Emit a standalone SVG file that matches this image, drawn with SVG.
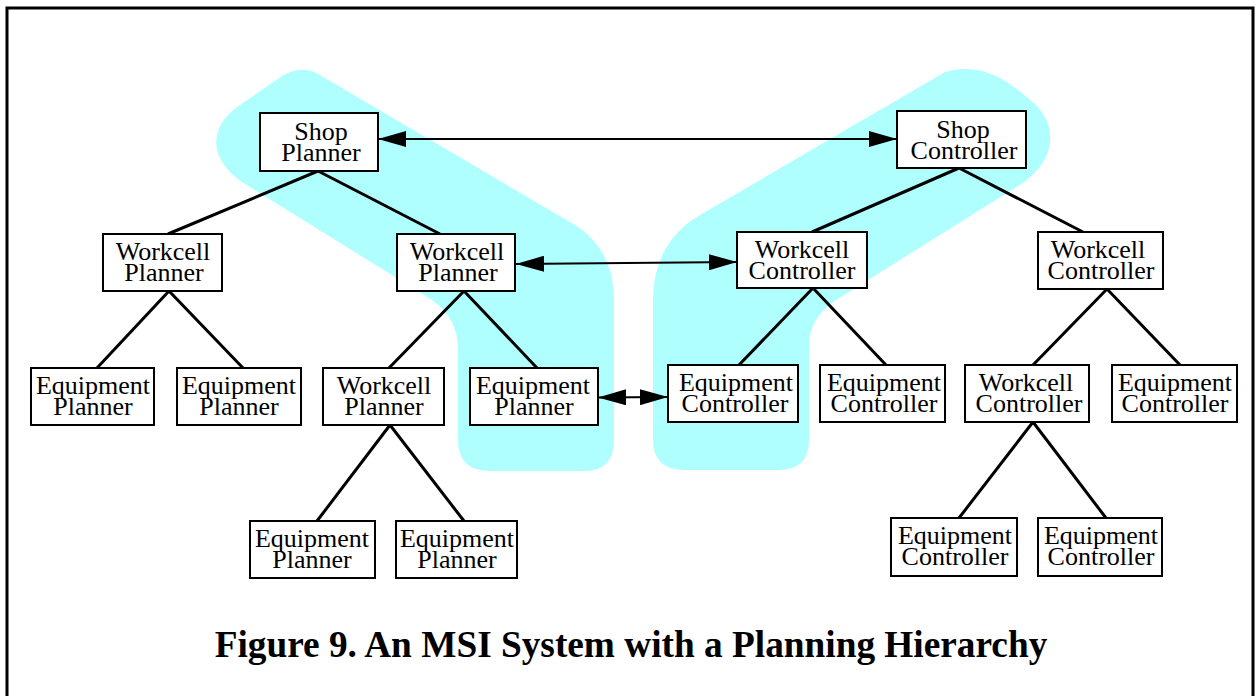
<svg xmlns="http://www.w3.org/2000/svg" width="1255" height="696" viewBox="0 0 1255 696">
  <style>
    .box { fill: #ffffff; stroke: #000000; stroke-width: 2; }
    .lbl { font-family: "Liberation Serif", "Times New Roman", serif; font-size: 26px; fill: #000000; text-anchor: middle; }
    .tree { stroke: #000000; stroke-width: 3; fill: none; }
    .link { stroke: #000000; stroke-width: 2; fill: none; marker-start: url(#head); marker-end: url(#head); }
    .zone { fill: #afffff; stroke: none; }
    .title { font-family: "Liberation Serif", "Times New Roman", serif; font-size: 37.3px; font-weight: bold; fill: #000000; }
  </style>
  <defs>
    <marker id="head" markerUnits="userSpaceOnUse" markerWidth="28" markerHeight="16" refX="28" refY="8" orient="auto-start-reverse">
      <path d="M0,0 L28,8 L0,16 Z" fill="#000000"/>
    </marker>
  </defs>

  <rect x="0" y="0" width="1255" height="696" fill="#ffffff"/>
  <!-- frame -->
  <rect x="7" y="8" width="1246" height="710" fill="none" stroke="#000000" stroke-width="3"/>

  <!-- highlighted planning / control chains -->
  <g id="zones">
    <path class="zone" d="M318,74 L575,225 Q614,250 614,300 L614,440 Q614,471 584,471 L490,471 Q458,471 458,440 L458,350 Q458,318 432,300 L242,182 C210,160 206,128 240,105 L282,76 C295,68 308,68 318,74 Z"/>
    <path class="zone" d="M945,72 L700,215 Q653,243 653,300 L653,440 Q653,470 685,470 L778,470 Q809,470 809,440 L809,345 Q809,318 836,300 L1018,186 C1055,163 1062,125 1030,100 C1005,78 980,62 945,72 Z"/>
  </g>

  <!-- connectors -->
  <g id="connectors">
    <path class="tree" d="M318,171 L168,234 M318,171 L440,234"/>
    <path class="tree" d="M169,291 L97,368 M169,291 L243,368"/>
    <path class="tree" d="M464,291 L389,368 M464,291 L537,368"/>
    <path class="tree" d="M390,425 L317,521 M390,425 L464,521"/>
    <path class="tree" d="M959,168 L812,232 M959,168 L1083,232"/>
    <path class="tree" d="M813,288 L739,365 M813,288 L886,365"/>
    <path class="tree" d="M1107,289 L1033,365 M1107,289 L1180,365"/>
    <path class="tree" d="M1033,422 L959,518 M1033,422 L1106,518"/>
    <line class="link" x1="378" y1="139" x2="897" y2="139"/>
    <line class="link" x1="516" y1="264" x2="737" y2="262"/>
    <line class="link" x1="598" y1="397.5" x2="668" y2="397"/>
  </g>

  <!-- planning hierarchy -->
  <g id="shop-planner">
    <rect class="box" x="260" y="113" width="118" height="58"/>
    <text class="lbl" y="140"><tspan x="321">Shop</tspan><tspan x="321" dy="21">Planner</tspan></text>
  </g>
  <g id="workcell-planner-1">
    <rect class="box" x="103" y="234" width="119" height="57"/>
    <text class="lbl" y="260"><tspan x="163">Workcell</tspan><tspan x="164" dy="21">Planner</tspan></text>
  </g>
  <g id="workcell-planner-2">
    <rect class="box" x="397" y="234" width="118" height="57"/>
    <text class="lbl" y="260"><tspan x="457">Workcell</tspan><tspan x="458" dy="21">Planner</tspan></text>
  </g>
  <g id="equipment-planner-1">
    <rect class="box" x="31" y="368" width="123" height="57"/>
    <text class="lbl" y="394"><tspan x="93">Equipment</tspan><tspan x="93" dy="21">Planner</tspan></text>
  </g>
  <g id="equipment-planner-2">
    <rect class="box" x="177" y="368" width="124" height="57"/>
    <text class="lbl" y="394"><tspan x="239">Equipment</tspan><tspan x="239" dy="21">Planner</tspan></text>
  </g>
  <g id="workcell-planner-3">
    <rect class="box" x="323" y="368" width="121" height="57"/>
    <text class="lbl" y="394"><tspan x="384">Workcell</tspan><tspan x="384" dy="21">Planner</tspan></text>
  </g>
  <g id="equipment-planner-3">
    <rect class="box" x="470" y="368" width="128" height="57"/>
    <text class="lbl" y="394"><tspan x="533">Equipment</tspan><tspan x="534" dy="21">Planner</tspan></text>
  </g>
  <g id="equipment-planner-4">
    <rect class="box" x="250" y="521" width="125" height="57"/>
    <text class="lbl" y="547"><tspan x="312">Equipment</tspan><tspan x="312" dy="21">Planner</tspan></text>
  </g>
  <g id="equipment-planner-5">
    <rect class="box" x="396" y="521" width="121" height="57"/>
    <text class="lbl" y="547"><tspan x="457">Equipment</tspan><tspan x="457" dy="21">Planner</tspan></text>
  </g>

  <!-- control hierarchy -->
  <g id="shop-controller">
    <rect class="box" x="897" y="111" width="129" height="57"/>
    <text class="lbl" y="138"><tspan x="963">Shop</tspan><tspan x="964" dy="21">Controller</tspan></text>
  </g>
  <g id="workcell-controller-1">
    <rect class="box" x="737" y="232" width="130" height="56"/>
    <text class="lbl" y="258"><tspan x="802">Workcell</tspan><tspan x="802" dy="21">Controller</tspan></text>
  </g>
  <g id="workcell-controller-2">
    <rect class="box" x="1038" y="232" width="125" height="57"/>
    <text class="lbl" y="258"><tspan x="1098">Workcell</tspan><tspan x="1101" dy="21">Controller</tspan></text>
  </g>
  <g id="equipment-controller-1">
    <rect class="box" x="668" y="365" width="130" height="57"/>
    <text class="lbl" y="391"><tspan x="736">Equipment</tspan><tspan x="735" dy="21">Controller</tspan></text>
  </g>
  <g id="equipment-controller-2">
    <rect class="box" x="820" y="365" width="125" height="57"/>
    <text class="lbl" y="391"><tspan x="884">Equipment</tspan><tspan x="884" dy="21">Controller</tspan></text>
  </g>
  <g id="workcell-controller-3">
    <rect class="box" x="965" y="365" width="124" height="57"/>
    <text class="lbl" y="391"><tspan x="1026">Workcell</tspan><tspan x="1029" dy="21">Controller</tspan></text>
  </g>
  <g id="equipment-controller-3">
    <rect class="box" x="1112" y="365" width="125" height="57"/>
    <text class="lbl" y="391"><tspan x="1175">Equipment</tspan><tspan x="1175" dy="21">Controller</tspan></text>
  </g>
  <g id="equipment-controller-4">
    <rect class="box" x="891" y="518" width="126" height="58"/>
    <text class="lbl" y="544"><tspan x="955">Equipment</tspan><tspan x="955" dy="21">Controller</tspan></text>
  </g>
  <g id="equipment-controller-5">
    <rect class="box" x="1038" y="518" width="124" height="58"/>
    <text class="lbl" y="544"><tspan x="1101">Equipment</tspan><tspan x="1101" dy="21">Controller</tspan></text>
  </g>

  <text class="title" x="631" y="657" text-anchor="middle">Figure 9. An MSI System with a Planning Hierarchy</text>
</svg>
